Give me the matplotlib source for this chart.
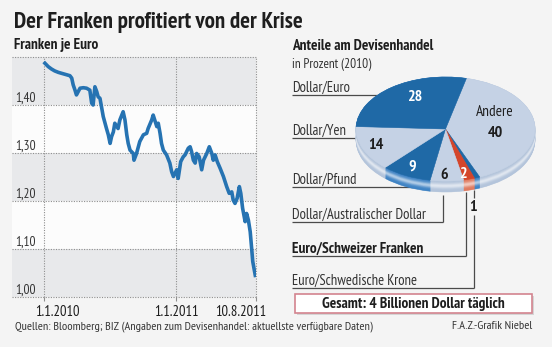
import numpy as np
import pandas as pd
import matplotlib
matplotlib.use('Agg')
from matplotlib import pyplot as plt
from matplotlib.colors import to_rgb
from matplotlib.patches import Rectangle
from matplotlib.transforms import ScaledTranslation

plt.rcParams['font.family'] = ['PT Sans Narrow', 'DejaVu Sans']

# EUR/CHF, days after 1.1.2010
rate_days = [3, 12, 21, 30, 40, 49, 63, 72, 77, 81, 86, 90, 95, 100, 109, 118, 127, 132, 136, 141,
             146, 150, 155, 160, 164, 173, 178, 183, 187, 192, 196, 205, 210, 219, 224, 229, 233, 238,
             247, 249, 256, 265, 275, 284, 288, 298, 302, 312, 316, 321, 325, 330, 339, 348, 353, 358,
             367, 371, 378, 385, 390, 399, 404, 408, 413, 418, 422, 429, 436, 441, 450, 457, 464, 468,
             473, 479, 487, 496, 505, 512, 519, 523, 528, 534, 540, 544, 549, 556, 560, 565, 570, 574,
             577, 584]
rate_values = [1.487, 1.480, 1.475, 1.471, 1.468, 1.466, 1.463, 1.461, 1.456, 1.442, 1.431, 1.421,
               1.428, 1.435, 1.436, 1.435, 1.431, 1.404, 1.400, 1.438, 1.428, 1.417, 1.414, 1.393,
               1.376, 1.351, 1.338, 1.320, 1.334, 1.344, 1.362, 1.351, 1.369, 1.386, 1.369, 1.338,
               1.320, 1.306, 1.299, 1.285, 1.299, 1.324, 1.338, 1.341, 1.351, 1.369, 1.379, 1.355,
               1.362, 1.341, 1.320, 1.306, 1.296, 1.279, 1.261, 1.251, 1.265, 1.247, 1.282, 1.292,
               1.296, 1.310, 1.313, 1.303, 1.285, 1.279, 1.299, 1.292, 1.265, 1.285, 1.299, 1.313,
               1.299, 1.285, 1.296, 1.282, 1.268, 1.251, 1.230, 1.216, 1.219, 1.202, 1.195, 1.206,
               1.230, 1.216, 1.185, 1.157, 1.174, 1.160, 1.136, 1.101, 1.074, 1.045]

y_ticks = [1.0, 1.1, 1.2, 1.3, 1.4]
y_tick_labels = ['1,00', '1,10', '1,20', '1,30', '1,40']
x_tick_dates = ['2010-01-01', '2011-01-01', '2011-08-10']
x_tick_labels = ['1.1.2010', '1.1.2011', '10.8.2011']

# Anteile am Devisenhandel 2010 in %, im Uhrzeigersinn ab oben
pairs = ['Andere', 'Euro/Schwedische Krone', 'Euro/Schweizer Franken',
         'Dollar/Australischer Dollar', 'Dollar/Pfund', 'Dollar/Yen', 'Dollar/Euro']
shares = [40, 1, 2, 6, 9, 14, 28]

W, H = 552, 347
BG = '#f4f4f4'
DARK = '#1f69a6'
LIGHT = '#c5d2e5'
RED = '#d4462b'
TXT = '#1e1e1e'


def px_axes(fig, x0, y0, x1, y1, **kw):
    return fig.add_axes([x0 / W, 1 - y1 / H, (x1 - x0) / W, (y1 - y0) / H], **kw)


def blend(c, other, f):
    c, other = np.array(to_rgb(c)), np.array(to_rgb(other))
    return tuple(c * (1 - f) + other * f)


fig = plt.figure(figsize=(W / 100, H / 100), dpi=100, facecolor=BG)

# lines that run beneath the pie
under = px_axes(fig, 0, 0, W, H)
under.set_xlim(0, W)
under.set_ylim(H, 0)
under.axis('off')

# ---- EUR/CHF line chart
ax = px_axes(fig, 12, 57, 256, 297)
ax.set_facecolor('#fcfcfc')
start = pd.Timestamp('2010-01-01')
dates = start + pd.to_timedelta(rate_days, unit='D')
tick_dates = pd.to_datetime(x_tick_dates)

for lo in (1.0, 1.2, 1.4):
    ax.axhspan(lo, lo + 0.1, color='#e8e9eb', lw=0, zorder=0)
dotted = dict(color='#8e8e8e', lw=0.8, ls=(0, (1, 1.3)), zorder=1, clip_on=False)
for y in np.arange(1.0, 1.51, 0.1):
    ax.axhline(y, **dotted)
for d in tick_dates:
    ax.axvline(d, **dotted)

ax.plot(dates, rate_values, color='#2673b2', lw=2.6, solid_joinstyle='round', zorder=3)

ax.set_xlim(start - pd.Timedelta(days=88), tick_dates[-1])
ax.set_ylim(1.0, 1.5)
for s in ax.spines.values():
    s.set_visible(False)
ax.set_yticks([])
ax.set_xticks(tick_dates, x_tick_labels)
ax.tick_params(axis='x', length=3, width=0.8, color='#8e8e8e', labelsize=10.5, pad=3, labelcolor=TXT)
for lab, dx in zip(ax.get_xticklabels(), [14, 0, -15]):
    lab.set_transform(lab.get_transform() + ScaledTranslation(dx / 100, 0, fig.dpi_scale_trans))

for v, lab in zip(y_ticks, y_tick_labels):
    ax.text(3 / 244, v + 0.006, lab, transform=ax.get_yaxis_transform(),
            fontsize=9.5, color='#333333', va='baseline', zorder=4)

# ---- pie with a rim
cx, cy, a, b = 445.5, 129, 89.5, 52
pax = px_axes(fig, cx - 1.25 * a, cy - 1.25 * b, cx + 1.25 * a, cy + 1.6 * b)
pax.patch.set_visible(False)

pie_colors = [LIGHT, DARK, RED, LIGHT, DARK, LIGHT, DARK]
rim_colors = ['#b3c4db', '#3f83c4', '#e07a5f', '#b3c4db', '#3f83c4', '#b3c4db', '#3f83c4']
depth = 11 / b
n_layers = 18
for i, t in enumerate(np.linspace(1, 0, n_layers)):
    glow = 0.6 * np.exp(-((t - 0.45) / 0.22) ** 2)
    cols = [blend(c, 'white', glow) for c in rim_colors]
    wedges, _ = pax.pie(shares, colors=cols, startangle=76.5, counterclock=False,
                        center=(0, -depth * t), wedgeprops=dict(linewidth=0))
    for w in wedges:
        w.set_edgecolor(w.get_facecolor())
        w.set_linewidth(0.4)

wedges, _ = pax.pie(shares, colors=pie_colors, startangle=76.5, counterclock=False,
                    wedgeprops=dict(linewidth=0))
for w in wedges:
    w.set_edgecolor(w.get_facecolor())
    w.set_linewidth(0.4)
pax.set_aspect('auto')
pax.set_xlim(-1.25, 1.25)
pax.set_ylim(-1.6, 1.25)
pax.axis('off')

# ---- texts and leader lines on top
over = px_axes(fig, 0, 0, W, H)
over.set_xlim(0, W)
over.set_ylim(H, 0)
over.axis('off')

over.text(14, 28, 'Der Franken profitiert von der Krise', fontsize=16.5, weight='bold',
          color=TXT, va='baseline')
over.text(14, 49, 'Franken je Euro', fontsize=11, weight='bold', color=TXT, va='baseline')
over.text(292.5, 50, 'Anteile am Devisenhandel', fontsize=11, weight='bold', color=TXT, va='baseline')
over.text(292.5, 68, 'in Prozent (2010)', fontsize=9.5, color='#333333', va='baseline')

# slice values
value_pos = [(495.5, 132.5), (473.5, 207), (462.5, 173.5), (444.5, 175), (412.5, 167), (376, 144.5), (414.5, 97)]
value_col = [TXT, TXT, 'white', TXT, 'white', TXT, 'white']
for v, (x, y), c in zip(shares, value_pos, value_col):
    over.text(x, y, str(v), fontsize=11.5, weight='bold', color=c, ha='center', va='center')
over.text(495, 112, pairs[0], fontsize=11, color=TXT, ha='center', va='center')

# left-hand labels with leader lines: (label index, underline y, line end x, riser top y)
leaders = [(6, 95, 380, None), (5, 138, 370, None), (4, 186.5, 420, None),
           (3, 222, 443, 195), (2, 256, 466, 192), (1, 288, 473.5, 215)]
line_kw = dict(color='#4a4a4a', lw=0.9, solid_capstyle='butt')
for idx, y, x_end, top in leaders:
    under.plot([292, x_end], [y, y], **line_kw)
    if top is not None:
        under.plot([x_end, x_end], [y, top], **line_kw)
    bold = pairs[idx] == 'Euro/Schweizer Franken'
    over.text(292.5, y - 3, pairs[idx], fontsize=11 if bold else 10.5, weight='bold' if bold else 'normal',
              color=TXT if bold else '#333333', va='baseline')
under.plot([473.5, 473.5], [190, 198], **line_kw)

# total box
over.add_patch(Rectangle((297, 296), 237, 19, fc='#d5d5d5', ec='none'))
over.add_patch(Rectangle((295, 294), 237, 19, fc='white', ec='#d3848f', lw=1.2))
over.text(413.5, 304, 'Gesamt: 4 Billionen Dollar täglich', fontsize=11, weight='bold',
          color=TXT, ha='center', va='center')

over.text(15, 329, 'Quellen: Bloomberg; BIZ (Angaben zum Devisenhandel: aktuellste verfügbare Daten)',
          fontsize=8.7, color='#333333', va='baseline')
over.text(532, 329, 'F.A.Z.-Grafik Niebel', fontsize=8.7, color='#333333', ha='right', va='baseline')

fig.savefig('out.png', dpi=100, facecolor=BG)
